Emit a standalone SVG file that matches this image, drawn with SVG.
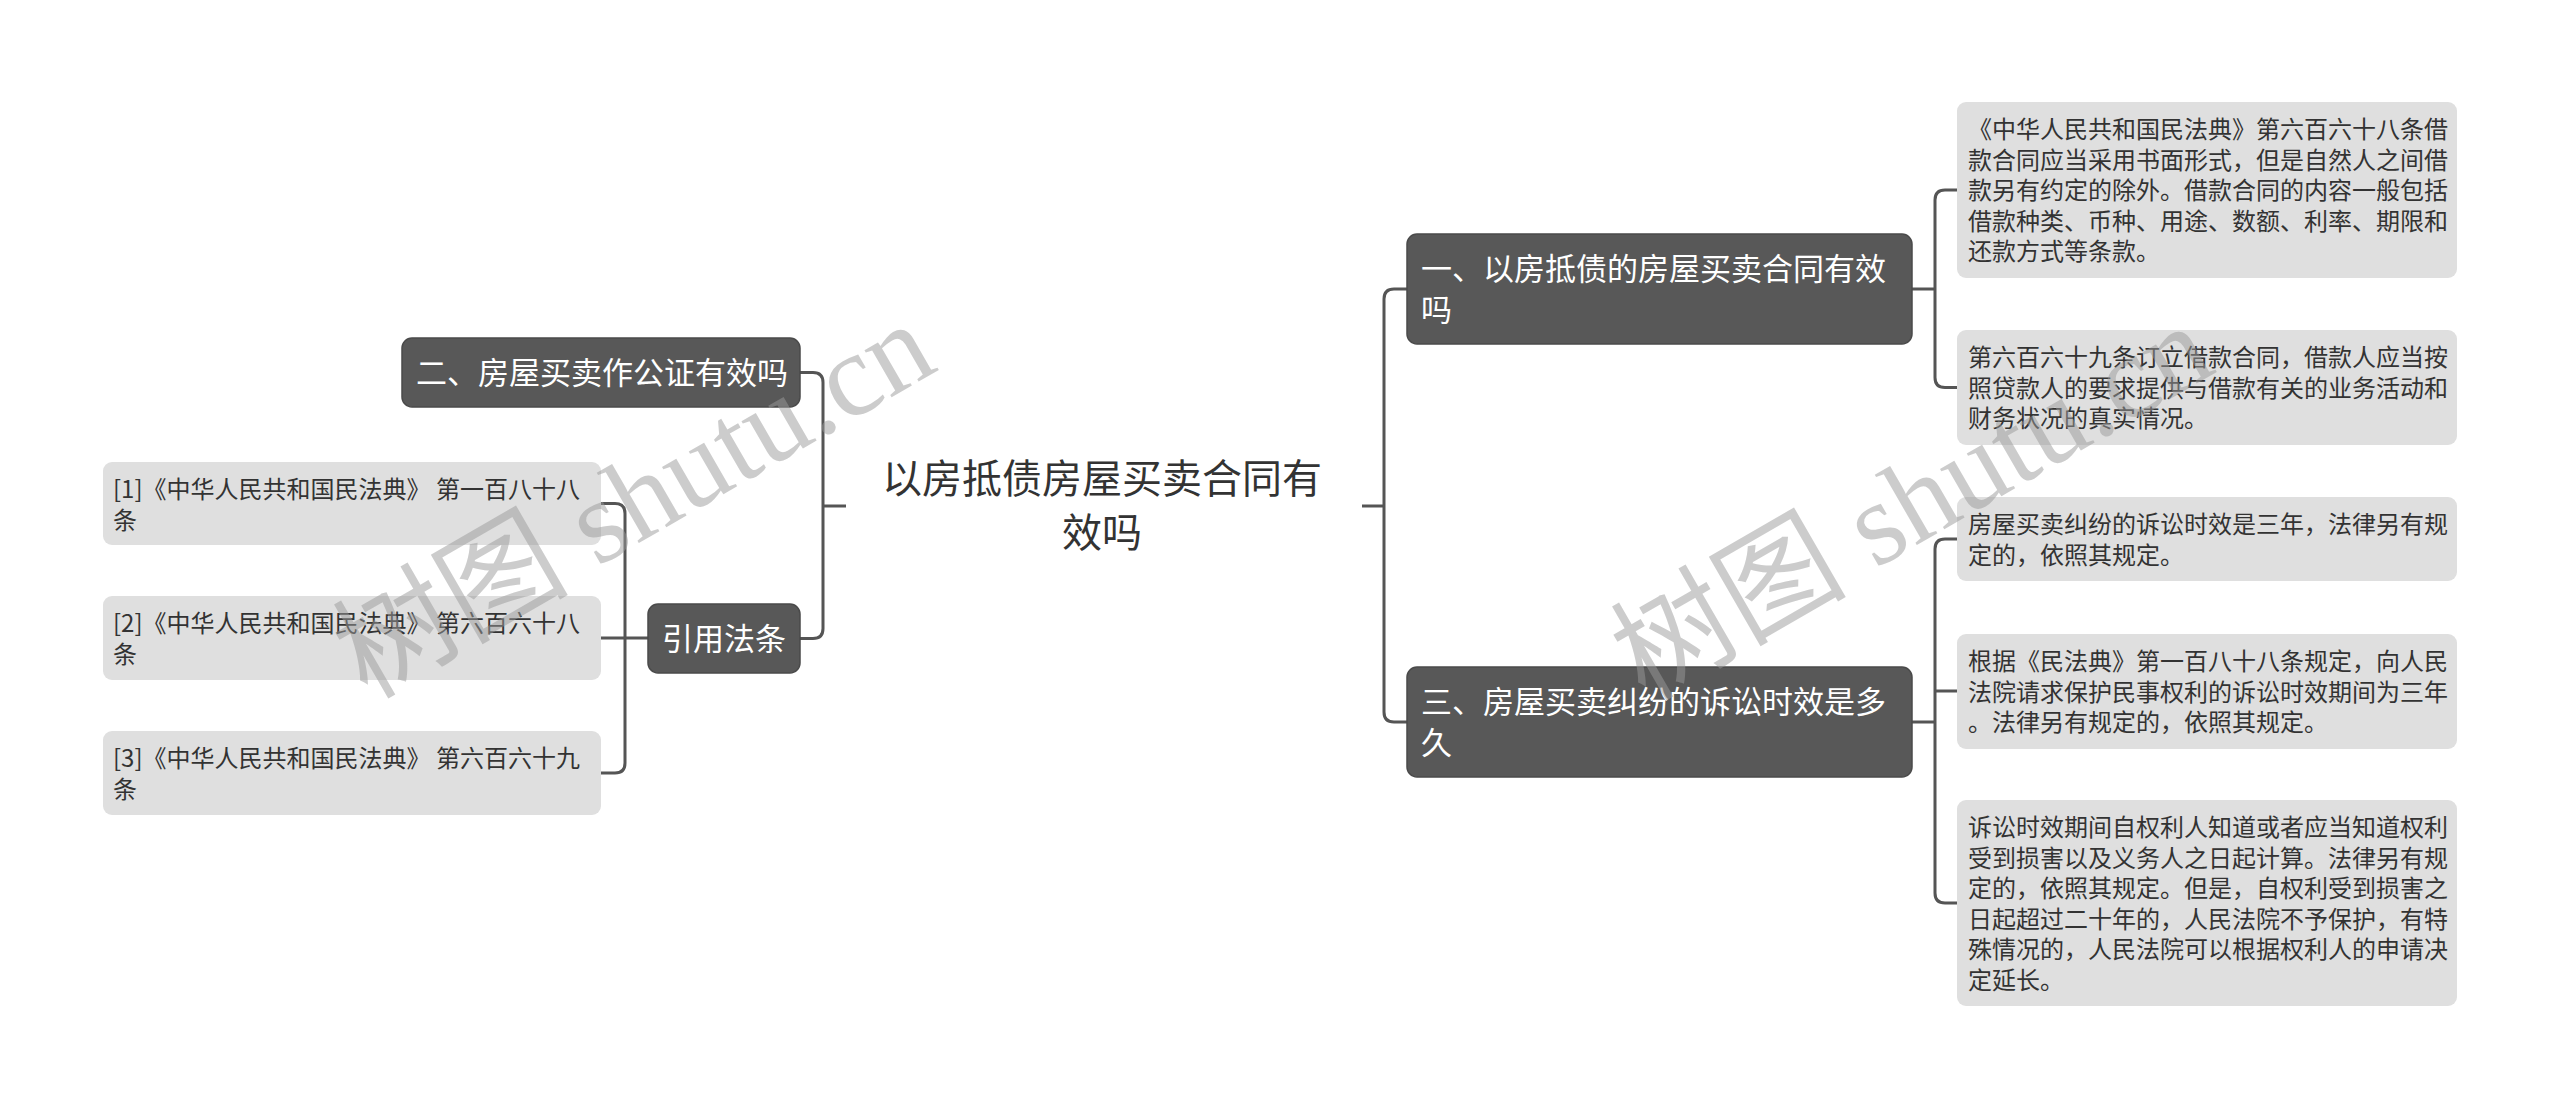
<svg xmlns="http://www.w3.org/2000/svg" width="2560" height="1110" viewBox="0 0 2560 1110">
<style>
.wm{font-family:"Liberation Serif","Noto Sans CJK SC",serif;font-size:118px;fill:#999;fill-opacity:0.5}
.root{font-family:"Noto Sans CJK SC",sans-serif;font-size:40px;fill:#333;text-anchor:middle}
.main rect{fill:#585858;stroke:#4a4a4a;stroke-width:1.5}
.main text{font-family:"Noto Sans CJK SC",sans-serif;font-size:31px;fill:#fff}
.leaf rect{fill:#dfdfdf}
.leaf text{font-family:"Noto Sans CJK SC",sans-serif;font-size:24px;fill:#333}
.conn path{fill:none;stroke:#555;stroke-width:3}
</style>
<rect width="2560" height="1110" fill="#fff"/>
<g id="connectors" class="conn">
<path d="M846,506 H823"/>
<path d="M800,372.5 H813 Q823,372.5 823,382.5 V628.5 Q823,638.5 813,638.5 H800"/>
<path d="M601,503.5 H615 Q625,503.5 625,513.5 V763 Q625,773 615,773 H601"/>
<path d="M601,638 H648"/>
<path d="M1362,506 H1384"/>
<path d="M1407,289 H1394 Q1384,289 1384,299 V712 Q1384,722 1394,722 H1407"/>
<path d="M1912,289 H1935"/>
<path d="M1957,190 H1945 Q1935,190 1935,200 V377.5 Q1935,387.5 1945,387.5 H1957"/>
<path d="M1912,722 H1935"/>
<path d="M1957,539 H1945 Q1935,539 1935,549 V893 Q1935,903 1945,903 H1957"/>
<path d="M1935,691 H1957"/>
</g>
<g id="root">
<text class="root" x="1102" y="493">以房抵债房屋买卖合同有</text>
<text class="root" x="1102" y="547">效吗</text>
</g>
<g id="n2" class="main">
<rect x="402" y="338" width="398" height="69" rx="10"/>
<text x="416" y="384">二、房屋买卖作公证有效吗</text>
</g>
<g id="nref" class="main">
<rect x="648" y="604" width="152" height="69" rx="10"/>
<text x="662" y="650">引用法条</text>
</g>
<g id="n1" class="main">
<rect x="1407" y="234" width="505" height="110" rx="10"/>
<text x="1421" y="280">一、以房抵债的房屋买卖合同有效</text>
<text x="1421" y="321">吗</text>
</g>
<g id="n3" class="main">
<rect x="1407" y="667" width="505" height="110" rx="10"/>
<text x="1421" y="713">三、房屋买卖纠纷的诉讼时效是多</text>
<text x="1421" y="754">久</text>
</g>
<g id="ref1" class="leaf">
<rect x="103" y="462" width="498" height="83" rx="9"/>
<text x="113" y="498" textLength="467" lengthAdjust="spacingAndGlyphs">[1]《中华人民共和国民法典》 第一百八十八</text>
<text x="113" y="528.5">条</text>
</g>
<g id="ref2" class="leaf">
<rect x="103" y="596" width="498" height="84" rx="9"/>
<text x="113" y="632" textLength="467" lengthAdjust="spacingAndGlyphs">[2]《中华人民共和国民法典》 第六百六十八</text>
<text x="113" y="662.5">条</text>
</g>
<g id="ref3" class="leaf">
<rect x="103" y="731" width="498" height="84" rx="9"/>
<text x="113" y="767" textLength="467" lengthAdjust="spacingAndGlyphs">[3]《中华人民共和国民法典》 第六百六十九</text>
<text x="113" y="797.5">条</text>
</g>
<g id="l1" class="leaf">
<rect x="1957" y="102" width="500" height="176" rx="9"/>
<text x="1968" y="138">《中华人民共和国民法典》第六百六十八条借</text>
<text x="1968" y="168.5">款合同应当采用书面形式，但是自然人之间借</text>
<text x="1968" y="199">款另有约定的除外。借款合同的内容一般包括</text>
<text x="1968" y="229.5">借款种类、币种、用途、数额、利率、期限和</text>
<text x="1968" y="260">还款方式等条款。</text>
</g>
<g id="l2" class="leaf">
<rect x="1957" y="330" width="500" height="115" rx="9"/>
<text x="1968" y="366">第六百六十九条订立借款合同，借款人应当按</text>
<text x="1968" y="396.5">照贷款人的要求提供与借款有关的业务活动和</text>
<text x="1968" y="427">财务状况的真实情况。</text>
</g>
<g id="l3" class="leaf">
<rect x="1957" y="497" width="500" height="84" rx="9"/>
<text x="1968" y="533">房屋买卖纠纷的诉讼时效是三年，法律另有规</text>
<text x="1968" y="563.5">定的，依照其规定。</text>
</g>
<g id="l4" class="leaf">
<rect x="1957" y="634" width="500" height="115" rx="9"/>
<text x="1968" y="670">根据《民法典》第一百八十八条规定，向人民</text>
<text x="1968" y="700.5">法院请求保护民事权利的诉讼时效期间为三年</text>
<text x="1968" y="731">。法律另有规定的，依照其规定。</text>
</g>
<g id="l5" class="leaf">
<rect x="1957" y="800" width="500" height="206" rx="9"/>
<text x="1968" y="836">诉讼时效期间自权利人知道或者应当知道权利</text>
<text x="1968" y="866.5">受到损害以及义务人之日起计算。法律另有规</text>
<text x="1968" y="897">定的，依照其规定。但是，自权利受到损害之</text>
<text x="1968" y="927.5">日起超过二十年的，人民法院不予保护，有特</text>
<text x="1968" y="958">殊情况的，人民法院可以根据权利人的申请决</text>
<text x="1968" y="988.5">定延长。</text>
</g>
<g id="watermarks">
<text class="wm" transform="translate(367,700) rotate(-30)">树图 shutu.cn</text>
<text class="wm" transform="translate(1645,702) rotate(-30)">树图 shutu.cn</text>
</g>
</svg>
